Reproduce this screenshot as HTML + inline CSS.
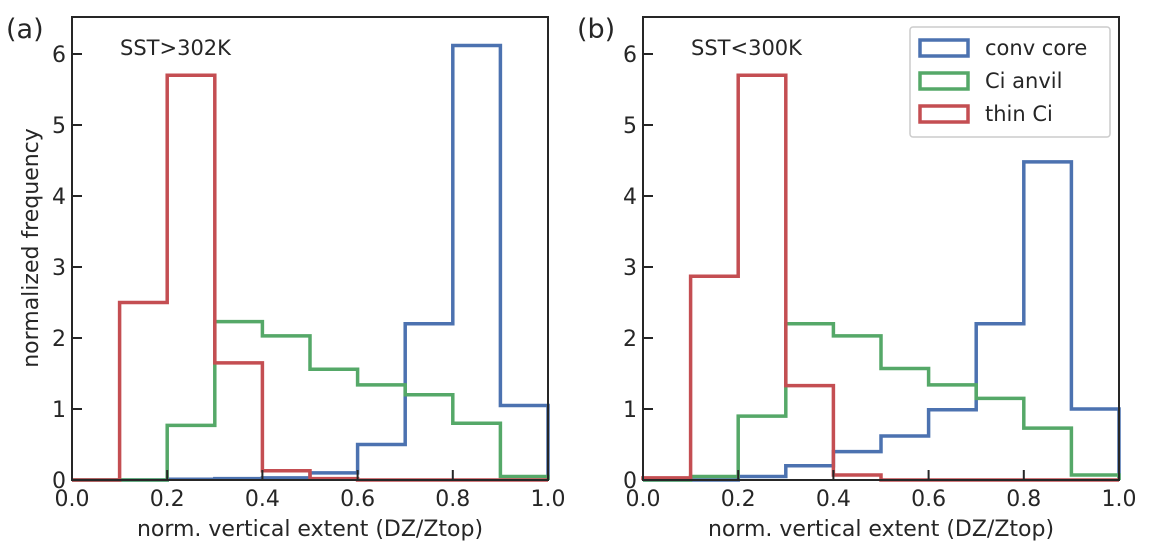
<!DOCTYPE html>
<html><head><meta charset="utf-8"><style>
body{margin:0;background:#fff;font-family:"DejaVu Sans","Liberation Sans",sans-serif}
svg text{fill:#262626}
</style></head><body>
<svg id="chart" width="1149" height="550"></svg>
<script>
const bins=[0,0.1,0.2,0.3,0.4,0.5,0.6,0.7,0.8,0.9,1.0];
const xTicks=["0.0","0.2","0.4","0.6","0.8","1.0"];
const yTicks=[0,1,2,3,4,5,6];
const aRed=[0,2.5,5.7,1.65,0.13,0.02,0,0,0,0];
const aGreen=[0,0,0.77,2.23,2.03,1.56,1.34,1.2,0.8,0.05];
const aBlue=[0,0,0.01,0.02,0.03,0.1,0.5,2.2,6.12,1.05];
const bRed=[0.03,2.87,5.7,1.33,0.07,0,0,0,0,0];
const bGreen=[0,0.05,0.9,2.2,2.03,1.57,1.34,1.15,0.73,0.07];
const bBlue=[0,0,0.05,0.2,0.4,0.62,0.99,2.2,4.48,1.0];
const seriesNames=["conv core","Ci anvil","thin Ci"];
const colors={blue:"#4c72b0",green:"#55a868",red:"#c44e52"};
const NS="http://www.w3.org/2000/svg";
const svg=document.getElementById('chart');
function mk(tag,attrs,parent){const e=document.createElementNS(NS,tag);for(const k in attrs)e.setAttribute(k,attrs[k]);(parent||svg).appendChild(e);return e;}
function panel(x0,x1,label,title,series,isFirst,legend){
  const yT=17,y0=480,unit=71;
  const X=v=>x0+(x1-x0)*v, Y=v=>y0-v*unit;
  const g=mk('g',{});
  
  
  series.forEach(([vals,col,nm])=>{
    let d='M'+X(bins[0])+','+Y(0);
    vals.forEach((v,i)=>{d+=' L'+X(bins[i])+','+Y(v)+' L'+X(bins[i+1])+','+Y(v);});
    d+=' L'+X(bins[bins.length-1])+','+Y(0);
    const p=mk('path',{d:d,fill:'none',stroke:col,'stroke-width':3.5,'stroke-linejoin':'miter'},g);
    
    
  });
  const fr=mk('rect',{x:x0,y:yT,width:x1-x0,height:y0-yT,fill:'none',stroke:'#262626','stroke-width':2},g);
  
  
  xTicks.forEach(t=>{const v=parseFloat(t);
    mk('line',{x1:X(v),x2:X(v),y1:y0,y2:y0-10,stroke:'#262626','stroke-width':2},g);
    const tx=mk('text',{x:X(v),y:y0+26,'text-anchor':'middle','font-size':22},g);tx.textContent=t;
    
    });
  yTicks.forEach(v=>{
    mk('line',{x1:x0,x2:x0+10,y1:Y(v),y2:Y(v),stroke:'#262626','stroke-width':2},g);
    const tx=mk('text',{x:x0-6,y:Y(v)+8,'text-anchor':'end','font-size':22},g);tx.textContent=v;
    
    });
  const xl=mk('text',{x:(x0+x1)/2,y:536,'text-anchor':'middle','font-size':22},g);xl.textContent='norm. vertical extent (DZ/Ztop)';
  
  
  const pl=mk('text',{x:x0-66,y:38,'font-size':27},g);pl.textContent='('+label+')';
  
  
  const tt=mk('text',{x:x0+48,y:55,'font-size':21},g);tt.textContent=title;
  
  
  if(isFirst){const yl=mk('text',{x:0,y:0,'text-anchor':'middle','font-size':22,transform:'translate(38,248) rotate(-90)'},g);yl.textContent='normalized frequency';
    
    }
  if(legend){
    const lg=mk('g',{},g);
    
    
    mk('rect',{x:910,y:27,width:200,height:110,fill:'#fff',stroke:'#cccccc','stroke-width':1.5,rx:3},lg);
    [[colors.blue,seriesNames[0]],[colors.green,seriesNames[1]],[colors.red,seriesNames[2]]].forEach(([c,n],i)=>{
      const yy=47+i*33;
      mk('rect',{x:920,y:yy-7,width:48,height:16,fill:'none',stroke:c,'stroke-width':3.5},lg);
      const t=mk('text',{x:985,y:yy+8,'font-size':21},lg);t.textContent=n;
      
      
    });
  }
}
panel(72,548,'a','SST>302K',[[aBlue,colors.blue,'conv-core'],[aGreen,colors.green,'ci-anvil'],[aRed,colors.red,'thin-ci']],true,false);
panel(643,1119,'b','SST<300K',[[bBlue,colors.blue,'conv-core'],[bGreen,colors.green,'ci-anvil'],[bRed,colors.red,'thin-ci']],false,true);
</script>
</body></html>
